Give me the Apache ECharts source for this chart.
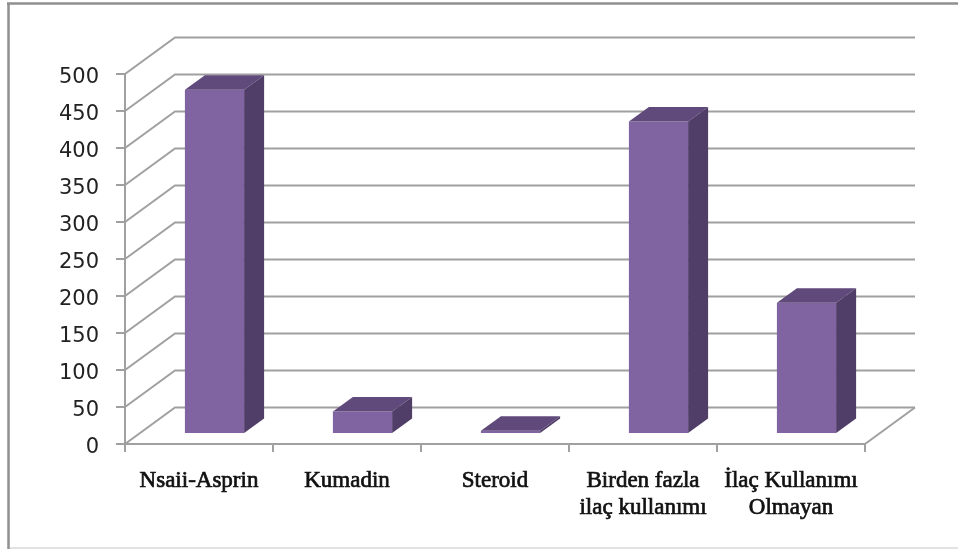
<!DOCTYPE html>
<html>
<head>
<meta charset="utf-8">
<style>html,body{margin:0;padding:0;background:#fff}#chart{width:958px;height:549px}</style>
<script src="https://cdn.jsdelivr.net/npm/echarts@6/dist/echarts.min.js"></script>
</head>
<body>
<div id="chart"></div>
<script>
const categories = ['Nsaii-Asprin', 'Kumadin', 'Steroid', 'Birden fazla\nilaç kullanımı', 'İlaç Kullanımı\nOlmayan'];
const values = [464, 29, 3, 421, 176];
const yTicks = [0, 50, 100, 150, 200, 250, 300, 350, 400, 450, 500];

// Pseudo-3D projection, in pixels
const WALL_DX = 50, WALL_DY = -36.5;   // depth of the floor and side wall
const BAR_SHIFT_X = 15, BAR_SHIFT_Y = -11; // bar front face sits behind the axis plane
const BAR_DX = 20, BAR_DY = -14.5;     // depth of each bar
const GRID_COLOR = '#a0a0a0';

const chart = echarts.init(document.getElementById('chart'), null, { renderer: 'canvas' });

function poly(points, fill) {
  return { type: 'polygon', shape: { points }, style: { fill }, silent: true };
}

function frameLine(x1, y1, x2, y2, stroke, lineWidth) {
  return { type: 'line', z: -10, silent: true, shape: { x1, y1, x2, y2 }, style: { stroke, lineWidth } };
}

chart.setOption({
  animation: false,
  backgroundColor: '#fff',
  graphic: [
    frameLine(7, 3.5, 958, 3.5, '#8f8f8f', 2.5),
    frameLine(8.5, 3, 8.5, 549, '#8f8f8f', 2.5),
    frameLine(10, 548, 958, 548, '#d9d9d9', 1.5)
  ],
  grid: { left: 125, right: 93, top: 74, bottom: 105 },
  xAxis: {
    type: 'category',
    data: categories,
    axisLine: { lineStyle: { color: GRID_COLOR, width: 2 } },
    axisTick: { show: true, alignWithLabel: false, length: 8, lineStyle: { color: GRID_COLOR, width: 2 } },
    axisLabel: {
      color: '#111', fontFamily: 'Liberation Serif', fontSize: 23, fontWeight: 'normal',
      textBorderColor: '#111', textBorderWidth: 0.7,
      margin: 23, lineHeight: 27, interval: 0
    }
  },
  yAxis: {
    type: 'value', min: 0, max: 500, interval: 50,
    axisLine: { show: true, lineStyle: { color: GRID_COLOR, width: 2 } },
    axisTick: { show: true, length: 9, lineStyle: { color: GRID_COLOR, width: 2 } },
    axisLabel: { color: '#222', fontFamily: 'DejaVu Sans', fontSize: 21, margin: 26, verticalAlign: 'top', lineHeight: 8 },
    splitLine: { show: false }
  },
  series: [{
    // floor edge, side-wall diagonals and back-wall gridlines
    type: 'custom',
    z: 1,
    silent: true,
    coordinateSystem: 'cartesian2d',
    data: yTicks.map(v => [0, v]),
    renderItem(params, api) {
      const p = api.coord([0, api.value(1)]);
      const x0 = p[0] - api.size([1, 0])[0] / 2;
      const x1 = x0 + api.size([1, 0])[0] * categories.length;
      const children = [{
        type: 'polyline',
        shape: { points: [[x0, p[1]], [x0 + WALL_DX, p[1] + WALL_DY], [x1 + WALL_DX, p[1] + WALL_DY]] },
        style: { stroke: GRID_COLOR, lineWidth: 2, fill: 'none' }
      }];
      if (api.value(1) === 0) {
        children.push({
          type: 'line',
          shape: { x1: x1, y1: p[1], x2: x1 + WALL_DX, y2: p[1] + WALL_DY },
          style: { stroke: GRID_COLOR, lineWidth: 2 }
        });
      }
      return { type: 'group', children };
    }
  }, {
    // bars: front, top and side faces
    type: 'custom',
    z: 3,
    silent: true,
    coordinateSystem: 'cartesian2d',
    data: values.map((v, i) => [i, v]),
    renderItem(params, api) {
      const top = api.coord([api.value(0), api.value(1)]);
      const base = api.coord([api.value(0), 0]);
      const w = api.size([1, 0])[0] * 0.4;
      const l = top[0] + BAR_SHIFT_X - w / 2 + 0.5, r = l + w;
      const t = top[1] + BAR_SHIFT_Y, b = base[1] + BAR_SHIFT_Y;
      return {
        type: 'group',
        children: [
          poly([[l, t], [r, t], [r, b], [l, b]], '#8064a2'),
          poly([[l, t], [l + BAR_DX, t + BAR_DY], [r + BAR_DX, t + BAR_DY], [r, t]], '#604a7b'),
          poly([[r, t], [r + BAR_DX, t + BAR_DY], [r + BAR_DX, b + BAR_DY], [r, b]], '#513e68')
        ]
      };
    }
  }]
});
</script>
</body>
</html>
